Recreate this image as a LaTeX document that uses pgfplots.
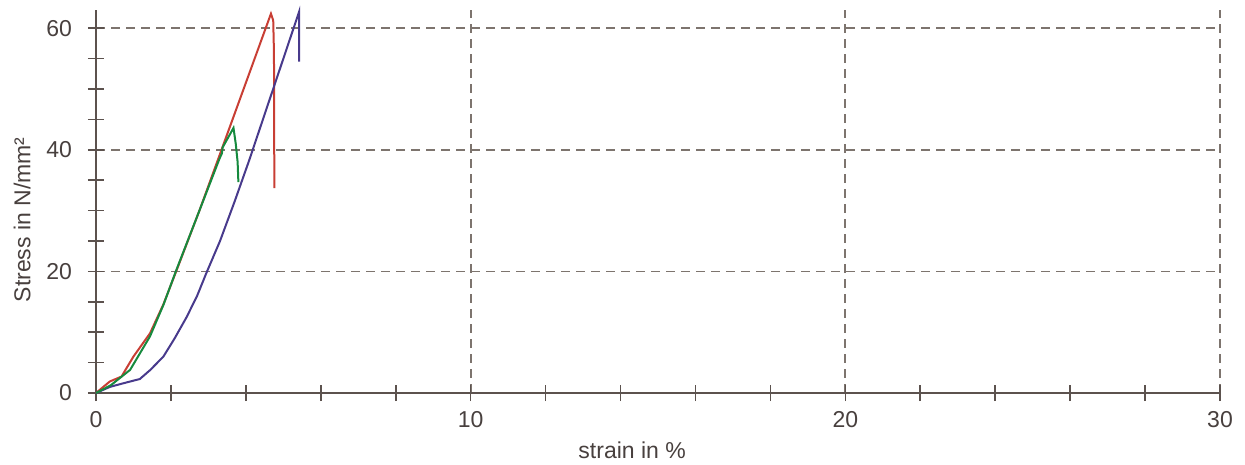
\documentclass[border=0pt]{standalone}
\usepackage{fontspec}
\setmainfont{Liberation Sans}
\usepackage{pgfplots}
\pgfplotsset{compat=1.18}
\definecolor{axc}{RGB}{92,82,78}
\definecolor{txc}{RGB}{72,64,62}
\definecolor{grc}{RGB}{125,116,110}
\definecolor{cred}{RGB}{200,62,52}
\definecolor{cgreen}{RGB}{22,138,62}
\definecolor{cblue}{RGB}{72,58,140}
\begin{document}
\fontsize{11.5bp}{13.5bp}\selectfont
\begin{tikzpicture}
\begin{axis}[
  scale only axis=true,
  width=562bp, height=191.5bp,
  xmin=0, xmax=30, ymin=0, ymax=63,
  axis lines=left,
  axis line style={-, color=axc, line width=0.8bp},
  xtick={0,10,20,30}, ytick={0,20,40,60},
  minor x tick num=4, minor y tick num=3,
  tick align=center,
  major tick length=8bp, minor tick length=8bp,
  every tick/.style={color=axc, line width=0.8bp},
  grid=major,
  major grid style={color=grc, dash pattern=on 4.5bp off 3bp, line width=0.9bp},
  ticklabel style={color=txc, font=\fontsize{11.5bp}{13.5bp}\selectfont},
  /pgf/number format/assume math mode=true,
  xticklabel style={yshift=-1bp},
  yticklabel style={xshift=-4bp},
  xlabel={strain in \%},
  ylabel={Stress in N/mm²},
  label style={color=txc, font=\fontsize{11.5bp}{13.5bp}\selectfont},
  xlabel style={at={(axis description cs:0.477,0)}, anchor=center, yshift=-28.5bp},
  ylabel style={at={(axis description cs:-0.0658,0.452)}, anchor=center},
  clip=false,
]
\addplot[color=cred, line width=1bp] coordinates {
 (0,0) (0.37,1.9) (0.68,2.7) (1.0,6.0) (1.44,9.8) (1.8,14.6) (2.14,20)
 (2.76,30) (3.35,40) (4.67,62.4) (4.73,61.3) (4.75,56) (4.76,33.7)
};
\addplot[color=cblue, line width=1bp] coordinates {
 (0,0) (0.37,1.0) (0.73,1.6) (1.17,2.3) (1.45,3.8) (1.80,6.0) (2.1,9.0)
 (2.42,12.5) (2.7,16) (2.95,19.8) (3.31,25) (3.7,31.5) (4.09,38.3)
 (5.42,62.7) (5.42,54.5)
};
\addplot[color=cgreen, line width=1bp] coordinates {
 (0,0) (0.4,1.3) (0.91,3.8) (1.44,9.3) (1.8,14.5) (2.13,20)
 (2.76,30) (3.3,38.6) (3.36,39.4) (3.38,40.4) (3.67,43.6) (3.73,41) (3.78,38) (3.80,34.7)
};
\end{axis}
\pgfresetboundingbox
\useasboundingbox (-48bp,-36bp) rectangle (574.5bp,196.5bp);
\end{tikzpicture}
\end{document}
